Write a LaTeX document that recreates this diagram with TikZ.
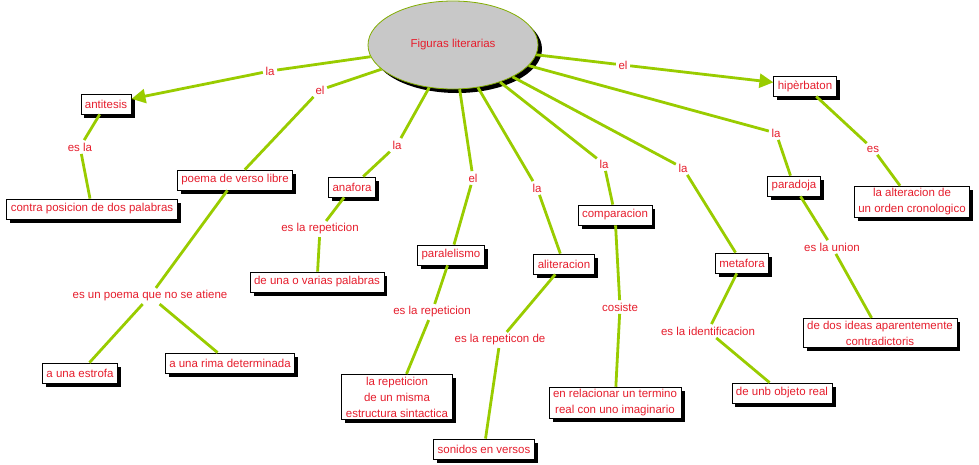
\documentclass[tikz,border=0pt]{standalone}
\usepackage{fontspec}
\setmainfont{Liberation Sans}
\usetikzlibrary{arrows.meta,shapes.geometric,shadows}
\definecolor{linkgreen}{RGB}{153,204,0}
\definecolor{textred}{RGB}{230,30,45}
\definecolor{bubblegray}{RGB}{200,200,200}

\begin{document}
\begin{tikzpicture}[x=1pt,y=-1pt,
	ConceptStyle/.style={draw=black, line width=0.8pt, fill=white, text=textred,
		font=\fontsize{11.5}{16}\selectfont, inner xsep=4pt, inner ysep=2.5pt,
		minimum height=20pt, align=center,
		drop shadow={shadow xshift=3.5pt, shadow yshift=-3.5pt, fill=black, opacity=1}},
	LinkStyle/.style={text=textred, font=\fontsize{11.5}{14}\selectfont, inner sep=2.5pt, fill=white},
	EdgeStyle/.style={draw=linkgreen, line width=2.8pt},
	ArrowStyle/.style={EdgeStyle, -{Triangle[length=14pt,width=14pt]}}]
	\useasboundingbox (0,0) rectangle (979,464);
	% main idea
	\node[ellipse, draw=linkgreen!85!black, line width=0.8pt, fill=bubblegray,
		minimum width=170pt, minimum height=88pt, text=textred,
		font=\fontsize{11.5}{14}\selectfont,
		drop shadow={shadow xshift=4pt, shadow yshift=-4pt, fill=black, opacity=1}]
		(F) at (453,45) {Figuras literarias};
	% concepts
	\node[ConceptStyle] (A)  at (106,104) {antitesis};
	\node[ConceptStyle] (A1) at (92,209)  {contra posicion de dos palabras};
	\node[ConceptStyle] (B)  at (235,180) {poema de verso libre};
	\node[ConceptStyle] (B1) at (80,373)  {a una estrofa};
	\node[ConceptStyle] (B2) at (230,363) {a una rima determinada};
	\node[ConceptStyle] (C)  at (352,187) {anafora};
	\node[ConceptStyle] (C1) at (317,282) {de una o varias palabras};
	\node[ConceptStyle] (D)  at (451,255) {paralelismo};
	\node[ConceptStyle] (D1) at (397,397) {la repeticion\\de un misma\\estructura sintactica};
	\node[ConceptStyle] (E)  at (564,264) {aliteracion};
	\node[ConceptStyle] (E1) at (484,449) {sonidos en versos};
	\node[ConceptStyle] (G)  at (615,215) {comparacion};
	\node[ConceptStyle] (G1) at (615,403) {en relacionar un termino\\real con uno imaginario};
	\node[ConceptStyle] (H)  at (742,263) {metafora};
	\node[ConceptStyle] (H1) at (782,393) {de unb objeto real};
	\node[ConceptStyle] (I)  at (794,186) {paradoja};
	\node[ConceptStyle] (I1) at (880,333) {de dos ideas aparentemente\\contradictoris};
	\node[ConceptStyle] (J)  at (805,86)  {hipèrbaton};
	\node[ConceptStyle] (J1) at (912,202) {la alteracion de\\un orden cronologico};
	% linking words
	\node[LinkStyle] (lA)  at (270,71)  {la};
	\node[LinkStyle] (lA1) at (80,147)  {es la};
	\node[LinkStyle] (lB)  at (320,90)  {el};
	\node[LinkStyle] (lB1) at (150,296) {es un poema que no se atiene};
	\node[LinkStyle] (lC)  at (397,145) {la};
	\node[LinkStyle] (lC1) at (320,229) {es la repeticion};
	\node[LinkStyle] (lD)  at (473,178) {el};
	\node[LinkStyle] (lD1) at (432,312) {es la repeticion};
	\node[LinkStyle] (lE)  at (537,188) {la};
	\node[LinkStyle] (lE1) at (500,340) {es la repeticon de};
	\node[LinkStyle] (lG)  at (604,164) {la};
	\node[LinkStyle] (lG1) at (620,307) {cosiste};
	\node[LinkStyle] (lH)  at (683,168) {la};
	\node[LinkStyle] (lH1) at (708,331) {es la identificacion};
	\node[LinkStyle] (lI)  at (776,133) {la};
	\node[LinkStyle] (lI1) at (832,247) {es la union};
	\node[LinkStyle] (lJ)  at (623,65)  {el};
	\node[LinkStyle] (lJ1) at (873,149) {es};
	% connectors
	\draw[EdgeStyle] (F) -- (lA);  \draw[ArrowStyle] (lA) -- (A);
	\draw[EdgeStyle] (A) -- (lA1) -- (A1);
	\draw[EdgeStyle] (F) -- (lB) -- (B);
	\draw[EdgeStyle] (B) -- (lB1);
	\draw[EdgeStyle] (lB1) -- (B1);
	\draw[EdgeStyle] (lB1) -- (B2);
	\draw[EdgeStyle] (F) -- (lC) -- (C) -- (lC1) -- (C1);
	\draw[EdgeStyle] (F) -- (lD) -- (D) -- (lD1) -- (D1);
	\draw[EdgeStyle] (F) -- (lE) -- (E) -- (lE1) -- (E1);
	\draw[EdgeStyle] (F) -- (lG) -- (G) -- (lG1) -- (G1);
	\draw[EdgeStyle] (F) -- (lH) -- (H) -- (lH1) -- (H1);
	\draw[EdgeStyle] (F) -- (lI) -- (I) -- (lI1) -- (I1);
	\draw[EdgeStyle] (F) -- (lJ);  \draw[ArrowStyle] (lJ) -- (J);
	\draw[EdgeStyle] (J) -- (lJ1) -- (J1);
\end{tikzpicture}
\end{document}
